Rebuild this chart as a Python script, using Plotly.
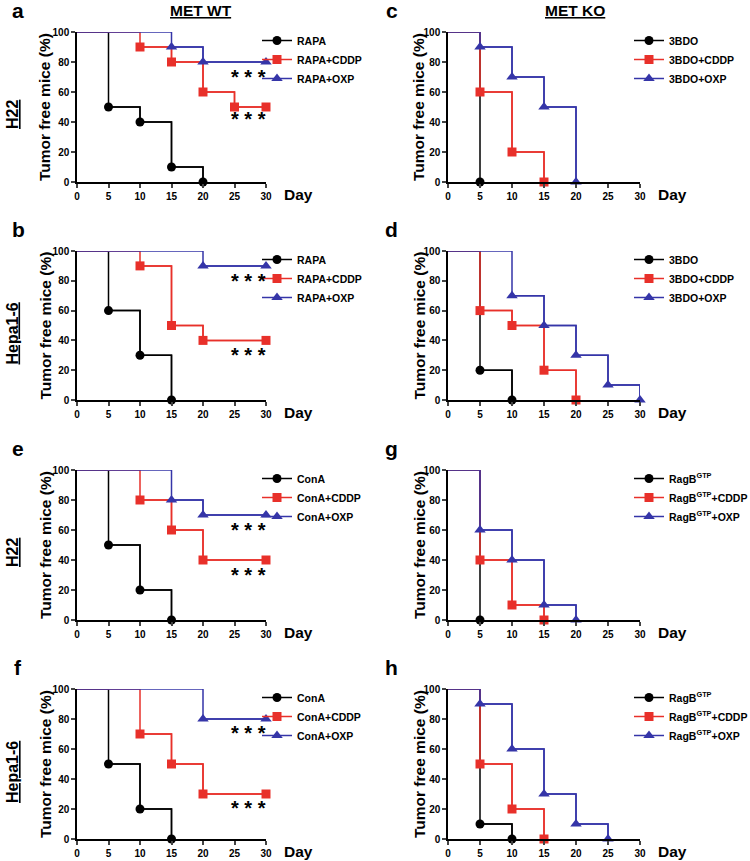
import plotly.graph_objects as go

# ---------------- data (day, % tumor-free) ----------------
# a: MET WT, H22
a_ctrl_day = [0, 5, 10, 15, 20];        a_ctrl_pct = [100, 50, 40, 10, 0]
a_cddp_day = [0, 10, 15, 20, 25, 30];   a_cddp_pct = [100, 90, 80, 60, 50, 50]
a_oxp_day = [0, 15, 20, 30];            a_oxp_pct = [100, 90, 80, 80]
# b: MET WT, Hepa1-6
b_ctrl_day = [0, 5, 10, 15];            b_ctrl_pct = [100, 60, 30, 0]
b_cddp_day = [0, 10, 15, 20, 30];       b_cddp_pct = [100, 90, 50, 40, 40]
b_oxp_day = [0, 20, 30];                b_oxp_pct = [100, 90, 90]
# c: MET KO, H22
c_ctrl_day = [0, 5];                    c_ctrl_pct = [100, 0]
c_cddp_day = [0, 5, 10, 15];            c_cddp_pct = [100, 60, 20, 0]
c_oxp_day = [0, 5, 10, 15, 20];         c_oxp_pct = [100, 90, 70, 50, 0]
# d: MET KO, Hepa1-6
d_ctrl_day = [0, 5, 10];                d_ctrl_pct = [100, 20, 0]
d_cddp_day = [0, 5, 10, 15, 20];        d_cddp_pct = [100, 60, 50, 20, 0]
d_oxp_day = [0, 10, 15, 20, 25, 30];    d_oxp_pct = [100, 70, 50, 30, 10, 0]
# e: MET WT, H22 (ConA)
e_ctrl_day = [0, 5, 10, 15];            e_ctrl_pct = [100, 50, 20, 0]
e_cddp_day = [0, 10, 15, 20, 30];       e_cddp_pct = [100, 80, 60, 40, 40]
e_oxp_day = [0, 15, 20, 30];            e_oxp_pct = [100, 80, 70, 70]
# f: MET WT, Hepa1-6 (ConA)
f_ctrl_day = [0, 5, 10, 15];            f_ctrl_pct = [100, 50, 20, 0]
f_cddp_day = [0, 10, 15, 20, 30];       f_cddp_pct = [100, 70, 50, 30, 30]
f_oxp_day = [0, 20, 30];                f_oxp_pct = [100, 80, 80]
# g: MET KO, H22 (RagB GTP)
g_ctrl_day = [0, 5];                    g_ctrl_pct = [100, 0]
g_cddp_day = [0, 5, 10, 15];            g_cddp_pct = [100, 40, 10, 0]
g_oxp_day = [0, 5, 10, 15, 20];         g_oxp_pct = [100, 60, 40, 10, 0]
# h: MET KO, Hepa1-6 (RagB GTP)
h_ctrl_day = [0, 5, 10];                h_ctrl_pct = [100, 10, 0]
h_cddp_day = [0, 5, 10, 15];            h_cddp_pct = [100, 50, 20, 0]
h_oxp_day = [0, 5, 10, 15, 20, 25];     h_oxp_pct = [100, 90, 60, 30, 10, 0]

rapa_names = ["RAPA", "RAPA+CDDP", "RAPA+OXP"]
bdo_names = ["3BDO", "3BDO+CDDP", "3BDO+OXP"]
cona_names = ["ConA", "ConA+CDDP", "ConA+OXP"]
ragb_names = ["RagB<sup>GTP</sup>", "RagB<sup>GTP</sup>+CDDP", "RagB<sup>GTP</sup>+OXP"]

x_ticks = [0, 5, 10, 15, 20, 25, 30]
y_ticks = [0, 20, 40, 60, 80, 100]

# significance stars (day, %) per panel
stars_a = [(27.3, 70), (27.3, 42)]
stars_b = [(27.3, 80), (27.3, 30)]
stars_e = [(27.3, 60), (27.3, 30)]
stars_f = [(27.3, 71), (27.3, 21)]

# ---------------- styling ----------------
W, H = 750, 861
FONT = "Liberation Sans, Arial, sans-serif"
COLORS = ["#000000", "#e8302a", "#3535a8"]
SYMBOLS = ["circle", "square", "triangle-up"]
MSIZE = [9, 9, 10]

col_x = {"L": (77, 266), "R": (448, 640)}
leg_x = {"L": 257, "R": 629}
row_y = [(32, 182), (251, 400), (470, 620), (689, 839)]

panels = [
    ("a", "L", 0, [(a_ctrl_day, a_ctrl_pct), (a_cddp_day, a_cddp_pct), (a_oxp_day, a_oxp_pct)], rapa_names, stars_a),
    ("b", "L", 1, [(b_ctrl_day, b_ctrl_pct), (b_cddp_day, b_cddp_pct), (b_oxp_day, b_oxp_pct)], rapa_names, stars_b),
    ("e", "L", 2, [(e_ctrl_day, e_ctrl_pct), (e_cddp_day, e_cddp_pct), (e_oxp_day, e_oxp_pct)], cona_names, stars_e),
    ("f", "L", 3, [(f_ctrl_day, f_ctrl_pct), (f_cddp_day, f_cddp_pct), (f_oxp_day, f_oxp_pct)], cona_names, stars_f),
    ("c", "R", 0, [(c_ctrl_day, c_ctrl_pct), (c_cddp_day, c_cddp_pct), (c_oxp_day, c_oxp_pct)], bdo_names, []),
    ("d", "R", 1, [(d_ctrl_day, d_ctrl_pct), (d_cddp_day, d_cddp_pct), (d_oxp_day, d_oxp_pct)], bdo_names, []),
    ("g", "R", 2, [(g_ctrl_day, g_ctrl_pct), (g_cddp_day, g_cddp_pct), (g_oxp_day, g_oxp_pct)], ragb_names, []),
    ("h", "R", 3, [(h_ctrl_day, h_ctrl_pct), (h_cddp_day, h_cddp_pct), (h_oxp_day, h_oxp_pct)], ragb_names, []),
]

fig = go.Figure()
layout = dict(
    width=W, height=H, margin=dict(l=0, r=0, t=0, b=0, pad=0, autoexpand=False),
    paper_bgcolor="white", plot_bgcolor="white",
    font=dict(family=FONT, color="black"),
    annotations=[],
)

def px2x(p):
    return p / W

def px2y(p):
    return 1 - p / H

for i, (letter, col, row, series, names, stars) in enumerate(panels):
    k = i + 1
    xa = "xaxis" if k == 1 else f"xaxis{k}"
    ya = "yaxis" if k == 1 else f"yaxis{k}"
    xr = "x" if k == 1 else f"x{k}"
    yr = "y" if k == 1 else f"y{k}"
    lg = "legend" if k == 1 else f"legend{k}"
    x0, x1 = col_x[col]
    yt, yb = row_y[row]
    layout[xa] = dict(
        domain=[px2x(x0), px2x(x1)], anchor=yr, range=[0, 30], automargin=False,
        tickvals=x_ticks, ticks="outside", ticklen=4, tickwidth=1.5,
        showline=True, linewidth=1.5, linecolor="black", showgrid=False, zeroline=False,
        tickfont=dict(family=FONT, size=10, weight="bold"),
    )
    layout[ya] = dict(
        domain=[px2y(yb), px2y(yt)], anchor=xr, range=[0, 100], automargin=False,
        tickvals=y_ticks, ticks="outside", ticklen=4, tickwidth=1.5,
        showline=True, linewidth=1.5, linecolor="black", showgrid=False, zeroline=False,
        tickfont=dict(family=FONT, size=10, weight="bold"),
    )
    layout[lg] = dict(
        x=px2x(leg_x[col]), y=px2y(yt - 6), xanchor="left", yanchor="top",
        bgcolor="rgba(0,0,0,0)", borderwidth=0,
        font=dict(family=FONT, size=10.5, weight="bold"),
        tracegroupgap=0,
    )
    for j, ((days, pct), name) in enumerate(zip(series, names)):
        # step line starting at day 0
        fig.add_trace(go.Scatter(
            x=days, y=pct, mode="lines", showlegend=False, hoverinfo="skip",
            line=dict(shape="hv", color=COLORS[j], width=1.5),
            xaxis=xr, yaxis=yr, cliponaxis=False,
        ))
        # event markers (with legend entry)
        fig.add_trace(go.Scatter(
            x=days[1:], y=pct[1:], name=name, mode="lines+markers",
            line=dict(shape="hv", color=COLORS[j], width=1.5),
            marker=dict(symbol=SYMBOLS[j], size=MSIZE[j], color=COLORS[j], line=dict(width=0)),
            xaxis=xr, yaxis=yr, legend=lg, cliponaxis=False,
        ))
    for (sx, sy) in stars:
        layout["annotations"].append(dict(
            x=sx, y=sy, xref=xr, yref=yr, text="* * *", showarrow=False,
            font=dict(family=FONT, size=20, weight="bold"), xanchor="center", yanchor="middle",
        ))
    # "Day" label
    layout["annotations"].append(dict(
        x=30, y=0, xref=xr, yref=yr, text="<b>Day</b>", showarrow=False,
        xanchor="left", yanchor="top", xshift=16, yshift=-2,
        font=dict(family=FONT, size=15.5),
    ))
    # y-axis title
    tx = 45 if col == "L" else 419
    layout["annotations"].append(dict(
        x=px2x(tx), y=px2y((yt + yb) / 2), xref="paper", yref="paper",
        text="<b>Tumor free mice (%)</b>", showarrow=False, textangle=-90,
        xanchor="center", yanchor="middle", font=dict(family=FONT, size=15.5),
    ))
    # panel letter
    lx = 18 if col == "L" else 392
    layout["annotations"].append(dict(
        x=px2x(lx), y=px2y(yt - 22), xref="paper", yref="paper", text=f"<b>{letter}</b>",
        showarrow=False, xanchor="center", yanchor="middle", font=dict(family=FONT, size=21),
    ))

# column titles
for cx, t in [(201, "MET WT"), (575, "MET KO")]:
    layout["annotations"].append(dict(x=px2x(cx), y=px2y(10), xref="paper", yref="paper",
                                      text=f"<b><u>{t}</u></b>", showarrow=False,
                                      xanchor="center", yanchor="middle",
                                      font=dict(family=FONT, size=15.5)))
# row labels
row_labels = ["H22", "Hepa1-6", "H22", "Hepa1-6"]
for (yt, yb), lab in zip(row_y, row_labels):
    layout["annotations"].append(dict(x=px2x(12), y=px2y((yt + yb) / 2 + 8), xref="paper", yref="paper",
                                      text=f"<b><u>{lab}</u></b>", showarrow=False, textangle=-90,
                                      xanchor="center", yanchor="middle",
                                      font=dict(family=FONT, size=16)))

fig.update_layout(**layout)
fig.write_html(
    "out.html",
    config={"displayModeBar": False},
    post_script=("document.body.style.margin='0px';"
                 "document.documentElement.style.overflow='hidden';"
                 "document.body.style.overflow='hidden';"),
)
